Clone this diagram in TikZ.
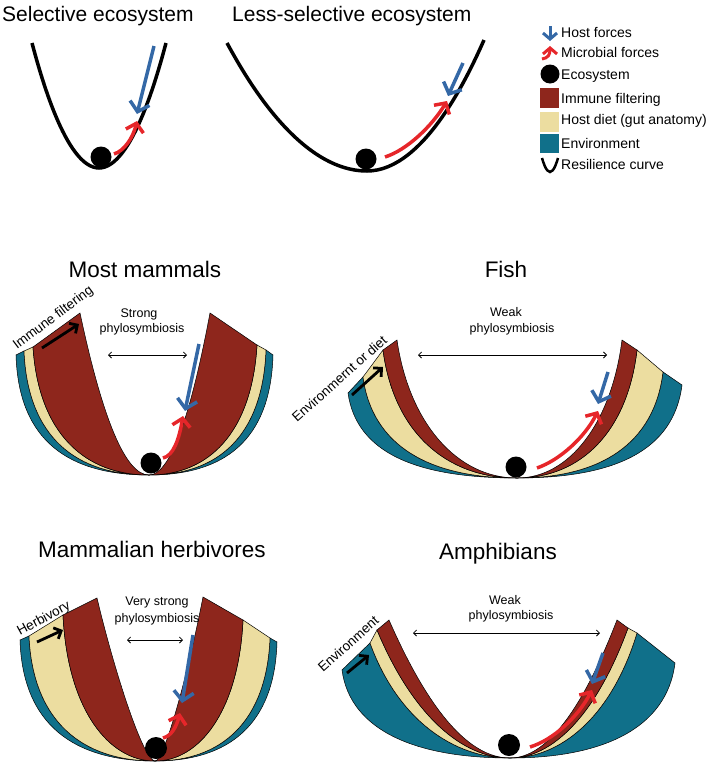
\documentclass[tikz,border=0pt]{standalone}
\usepackage{fontspec}
\setmainfont{Liberation Sans}
\usetikzlibrary{arrows.meta}
\definecolor{immred}{RGB}{142,38,28}
\definecolor{dietyel}{RGB}{236,221,160}
\definecolor{envteal}{RGB}{16,112,138}
\definecolor{hostblue}{RGB}{52,104,166}
\definecolor{micred}{RGB}{230,38,42}
% curve spec: xl,yl,xr,yr,xb,yb,a,b,c
\def\setO#1,#2,#3,#4,#5,#6,#7,#8,#9;{\def\qoxl{#1}\def\qoyl{#2}\def\qoxr{#3}\def\qoyr{#4}\def\qoxb{#5}\def\qoyb{#6}\def\qoa{#7}\def\qob{#8}\def\qoc{#9}}
\def\setI#1,#2,#3,#4,#5,#6,#7,#8,#9;{\def\qixl{#1}\def\qiyl{#2}\def\qixr{#3}\def\qiyr{#4}\def\qixb{#5}\def\qiyb{#6}\def\qia{#7}\def\qib{#8}\def\qic{#9}}
\newcommand\band[3]{\expandafter\setO#2;\expandafter\setI#3;%
\filldraw[bandline,fill=#1] (\qoxl,\qoyl)
 .. controls ({\qoxl+\qoa*(\qoxb-\qoxl)},{\qoyl+\qob*(\qoyb-\qoyl)}) and ({\qoxb-\qoc*(\qoxb-\qoxl)},\qoyb) .. (\qoxb,\qoyb)
 .. controls ({\qoxb+\qoc*(\qoxr-\qoxb)},\qoyb) and ({\qoxr-\qoa*(\qoxr-\qoxb)},{\qoyr+\qob*(\qoyb-\qoyr)}) .. (\qoxr,\qoyr)
 -- (\qixr,\qiyr)
 .. controls ({\qixr-\qia*(\qixr-\qixb)},{\qiyr+\qib*(\qiyb-\qiyr)}) and ({\qixb+\qic*(\qixr-\qixb)},\qiyb) .. (\qixb,\qiyb)
 .. controls ({\qixb-\qic*(\qixb-\qixl)},\qiyb) and ({\qixl+\qia*(\qixb-\qixl)},{\qiyl+\qib*(\qiyb-\qiyl)}) .. (\qixl,\qiyl)
 -- cycle;}
% Most mammals
\def\MMo{16,355,273,355,149,475,0.02,0.72,0.6}
\def\MMi{24,351,266,350,149,475,0.03,0.7,0.58}
\def\MMj{33,347,257,345,149,475,0.05,0.68,0.55}
\def\MMk{80,313,210,313,149,475,0.333,0.667,0.333}
% Fish
\def\FIo{348,393,682,385,517,478,0.05,0.7,0.6}
\def\FIi{363,377,663,372,517,478,0.06,0.68,0.57}
\def\FIj{383,350,637,350,517,478,0.08,0.64,0.53}
\def\FIk{397,340,622,340,517,478,0.1,0.6,0.5}
% Herbivores
\def\HEo{20,640,277,642,155,761,0.02,0.7,0.6}
\def\HEi{29,636,270,638,155,761,0.03,0.68,0.58}
\def\HEj{63,615,243,620,155,761,0.05,0.65,0.5}
\def\HEk{97,598,203,597,155,761,0.3,0.45,0.2}
% Amphibians
\def\AMo{342,670,675,663,510,758,0.05,0.7,0.55}
\def\AMi{370,643,637,633,510,758,0.2,0.67,0.4}
\def\AMj{377,630,628,628,510,758,0.27,0.67,0.36}
\def\AMk{389,620,617,620,510,758,0.333,0.667,0.333}
\begin{document}
\begin{tikzpicture}[x=1pt,y=-1pt,
  toptitle/.style={font=\fontsize{21}{25}\selectfont, inner sep=0pt, anchor=base west},
  ptitle/.style={font=\fontsize{22.5}{27}\selectfont, inner sep=0pt, anchor=base},
  leg/.style={font=\fontsize{14}{17}\selectfont, inner sep=0pt, anchor=base west},
  phylo/.style={font=\fontsize{12.5}{15}\selectfont, inner sep=0pt, anchor=base},
  sidelab/.style={font=\fontsize{13.5}{16}\selectfont, inner sep=0pt, anchor=base west},
  hostarrow/.style={draw=hostblue, line width=3.5pt, -{Straight Barb[length=9pt,width=20pt]}},
  micarrow/.style={draw=micred, line width=3.5pt, -{Straight Barb[length=8pt,width=18pt]}},
  ecoball/.style={circle, fill=black, inner sep=0pt, minimum size=#1},
  ecoball/.default=21pt,
  bandline/.style={draw=black, line width=0.5pt},
  filterarrow/.style={draw=black, line width=2.8pt, -{Straight Barb[length=6pt,width=12pt]}},
  dblarrow/.style={draw=black, line width=0.8pt, {Straight Barb[length=3pt,width=6pt]}-{Straight Barb[length=3pt,width=6pt]}},
  resil/.style={draw=black, line width=3.5pt},
  swatch/.style={draw=none}
]
\useasboundingbox (0,0) rectangle (709,766);

% ---------- Top panels ----------
\node[toptitle] (t1) at (2,21) {Selective ecosystem};
\node[toptitle] (t2) at (232,21) {Less-selective ecosystem};

\draw[resil] (32,43) parabola bend (99,168) (166,43);
\node[ecoball] (b1) at (101,157) {};
\coordinate (h1s) at (154,46); \coordinate (h1e) at (137,114);
\draw[hostarrow] (h1s) -- (h1e);
\coordinate (m1s) at (114,154); \coordinate (m1e) at (137,121);
\draw[micarrow] (m1s) .. controls (124,151) and (133,138) .. (m1e);

\draw[resil] (227,43) parabola bend (367,171) (484,40);
\node[ecoball] (b2) at (366,159) {};
\coordinate (h2s) at (463,63); \coordinate (h2e) at (448,96);
\draw[hostarrow] (h2s) -- (h2e);
\coordinate (m2s) at (385,157); \coordinate (m2e) at (447,101);
\draw[micarrow] (m2s) .. controls (407,150) and (432,126) .. (m2e);

% ---------- Legend ----------
\coordinate (lh1) at (550,26); \coordinate (lh2) at (550,41);
\draw[draw=hostblue, line width=3pt, -{Straight Barb[length=6pt,width=14pt]}] (lh1) -- (lh2);
\node[leg] (lt1) at (561,37) {Host forces};
\coordinate (lm1) at (542,59); \coordinate (lm2) at (550,46);
\draw[draw=micred, line width=3pt, -{Straight Barb[length=6pt,width=14pt]}] (lm1) .. controls (548,58) and (550,55) .. (lm2);
\node[leg] (lt2) at (561,57) {Microbial forces};
\node[ecoball=19pt] (lb) at (550,74) {};
\node[leg] (lt3) at (561,79) {Ecosystem};
\fill[immred] (540,88) rectangle (559,108);
\node[leg] (lt4) at (561,103) {Immune filtering};
\fill[dietyel] (540,112) rectangle (559,132);
\node[leg] (lt5) at (561,124) {Host diet (gut anatomy)};
\fill[envteal] (540,134) rectangle (559,153);
\node[leg] (lt6) at (561,148) {Environment};
\draw[draw=black, line width=2.5pt] (542,158) parabola bend (550,172) (558,158);
\node[leg] (lt7) at (561,169) {Resilience curve};

% ---------- Most mammals ----------
\band{envteal}{\MMo}{\MMi}
\band{dietyel}{\MMi}{\MMj}
\band{immred}{\MMj}{\MMk}
\node[ptitle] (tmm) at (145,277) {Most mammals};
\node[phylo] (mmp1) at (139,317) {Strong};
\node[phylo] (mmp2) at (142,332) {phylosymbiosis};
\coordinate (mmd1) at (108,355); \coordinate (mmd2) at (187,355);
\draw[dblarrow] (mmd1) -- (mmd2);
\node[sidelab, rotate=37] (mmside) at (17,350) {Immune filtering};
\coordinate (mmf1) at (42,348); \coordinate (mmf2) at (79,324);
\draw[filterarrow] (mmf1) -- (mmf2);
\coordinate (mmh1) at (199,344); \coordinate (mmh2) at (185,411);
\draw[hostarrow] (mmh1) -- (mmh2);
\coordinate (mmm1) at (163,458); \coordinate (mmm2) at (183,416);
\draw[micarrow] (mmm1) .. controls (173,456) and (179,440) .. (mmm2);
\node[ecoball] (mmb) at (151,463) {};

% ---------- Fish ----------
\band{envteal}{\FIo}{\FIi}
\band{dietyel}{\FIi}{\FIj}
\band{immred}{\FIj}{\FIk}
\node[ptitle] (tfi) at (506,277) {Fish};
\node[phylo] (fip1) at (506,316) {Weak};
\node[phylo] (fip2) at (512,332) {phylosymbiosis};
\coordinate (fid1) at (418,355); \coordinate (fid2) at (607,355);
\draw[dblarrow] (fid1) -- (fid2);
\node[sidelab, rotate=41.7] (fiside) at (297,423) {Environmernt or diet};
\coordinate (fif1) at (352,395); \coordinate (fif2) at (383,367);
\draw[filterarrow] (fif1) -- (fif2);
\coordinate (fih1) at (608,372); \coordinate (fih2) at (598,404);
\draw[hostarrow] (fih1) -- (fih2);
\coordinate (fim1) at (537,468); \coordinate (fim2) at (598,411);
\draw[micarrow] (fim1) .. controls (560,460) and (585,437) .. (fim2);
\node[ecoball] (fib) at (516,467) {};

% ---------- Mammalian herbivores ----------
\band{envteal}{\HEo}{\HEi}
\band{dietyel}{\HEi}{\HEj}
\band{immred}{\HEj}{\HEk}
\node[ptitle] (the) at (152,557) {Mammalian herbivores};
\node[phylo] (hep1) at (157,605) {Very strong};
\node[phylo] (hep2) at (157,622) {phylosymbiosis};
\coordinate (hed1) at (127,640); \coordinate (hed2) at (183,640);
\draw[dblarrow] (hed1) -- (hed2);
\node[sidelab, rotate=28.4] (heside) at (20,636) {Herbivory};
\coordinate (hef1) at (37,642); \coordinate (hef2) at (63,630);
\draw[filterarrow] (hef1) -- (hef2);
\coordinate (heh1) at (193,635); \coordinate (heh2) at (182,703);
\draw[hostarrow] (heh1) -- (heh2);
\coordinate (hem1) at (163,738); \coordinate (hem2) at (180,713);
\draw[micarrow] (hem1) .. controls (171,736) and (176,728) .. (hem2);
\node[ecoball=22pt] (heb) at (156,748) {};

% ---------- Amphibians ----------
\band{envteal}{\AMo}{\AMi}
\band{dietyel}{\AMi}{\AMj}
\band{immred}{\AMj}{\AMk}
\node[ptitle] (tam) at (498,559) {Amphibians};
\node[phylo] (amp1) at (505,604) {Weak};
\node[phylo] (amp2) at (511,619) {phylosymbiosis};
\coordinate (amd1) at (413,633); \coordinate (amd2) at (600,633);
\draw[dblarrow] (amd1) -- (amd2);
\node[sidelab, rotate=41.8] (amside) at (323,673) {Environment};
\coordinate (amf1) at (347,673); \coordinate (amf2) at (369,655);
\draw[filterarrow] (amf1) -- (amf2);
\coordinate (amh1) at (603,653); \coordinate (amh2) at (592,684);
\draw[hostarrow] (amh1) -- (amh2);
\coordinate (amm1) at (530,747); \coordinate (amm2) at (592,690);
\draw[micarrow] (amm1) .. controls (553,740) and (578,717) .. (amm2);
\node[ecoball=22pt] (amb) at (509,745) {};
\end{tikzpicture}
\end{document}
